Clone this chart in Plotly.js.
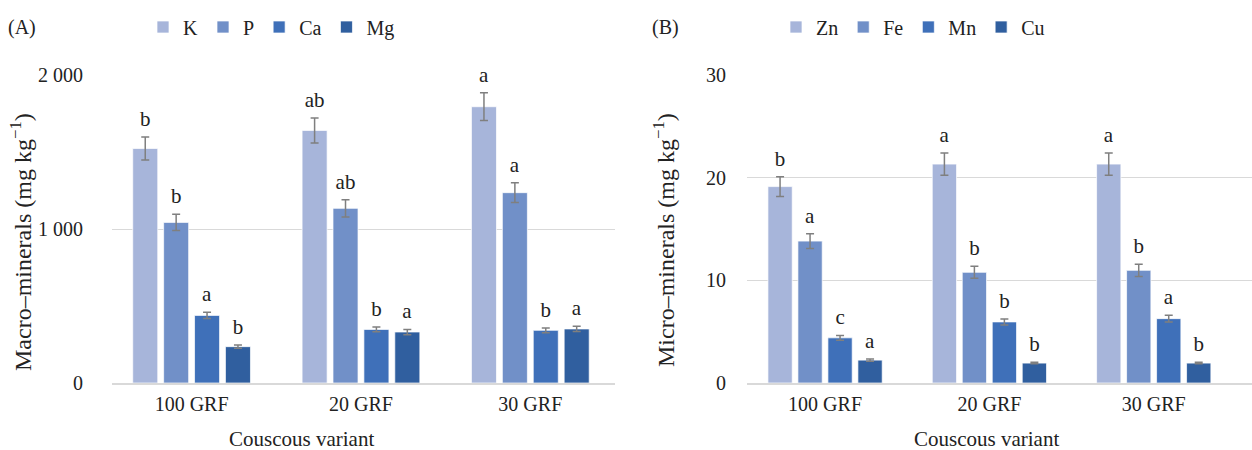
<!DOCTYPE html>
<html>
<head>
<meta charset="utf-8">
<script src="https://cdn.plot.ly/plotly-3.0.1.min.js"></script>
<style>html,body{margin:0;padding:0;background:#fff;}#chart{width:1252px;height:450px;}</style>
</head>
<body>
<div id="chart"></div>
<script>
// ---------- data ----------
const categories = ['100 GRF', '20 GRF', '30 GRF'];

const macroNames = ['K', 'P', 'Ca', 'Mg'];
const K_vals  = [1523, 1640, 1794];
const K_err   = [75, 81, 90];
const K_lbl   = ['b', 'ab', 'a'];
const P_vals  = [1043, 1134, 1236];
const P_err   = [52, 56, 64];
const P_lbl   = ['b', 'ab', 'a'];
const Ca_vals = [439, 348, 342];
const Ca_err  = [20, 15, 15];
const Ca_lbl  = ['a', 'b', 'b'];
const Mg_vals = [236, 331, 351];
const Mg_err  = [10, 17, 17];
const Mg_lbl  = ['b', 'a', 'a'];

const microNames = ['Zn', 'Fe', 'Mn', 'Cu'];
const Zn_vals = [19.13, 21.32, 21.32];
const Zn_err  = [0.97, 1.08, 1.08];
const Zn_lbl  = ['b', 'a', 'a'];
const Fe_vals = [13.82, 10.78, 10.97];
const Fe_err  = [0.71, 0.58, 0.60];
const Fe_lbl  = ['a', 'b', 'b'];
const Mn_vals = [4.40, 5.95, 6.27];
const Mn_err  = [0.23, 0.29, 0.32];
const Mn_lbl  = ['c', 'b', 'a'];
const Cu_vals = [2.23, 1.94, 1.94];
const Cu_err  = [0.10, 0.07, 0.07];
const Cu_lbl  = ['a', 'b', 'b'];

// ---------- style ----------
const colors = ['#A7B5DA', '#7190C8', '#3F70B9', '#305F9F'];
const FONT = 'Liberation Serif';
const TXT = '#222222';

const macro = [
  [K_vals, K_err, K_lbl], [P_vals, P_err, P_lbl],
  [Ca_vals, Ca_err, Ca_lbl], [Mg_vals, Mg_err, Mg_lbl]
];
const micro = [
  [Zn_vals, Zn_err, Zn_lbl], [Fe_vals, Fe_err, Fe_lbl],
  [Mn_vals, Mn_err, Mn_lbl], [Cu_vals, Cu_err, Cu_lbl]
];

const traces = [];
function addSet(names, sets, xa, ya, legendId, pad) {
  sets.forEach(([vals, errs, lbls], i) => {
    const grp = xa + names[i];
    traces.push({
      type: 'bar', x: categories, y: vals, name: names[i],
      xaxis: xa, yaxis: ya, legend: legendId, offsetgroup: grp,
      marker: { color: colors[i], line: { color: 'rgba(255,255,255,0.7)', width: 1 } },
      error_y: { type: 'data', array: errs, visible: true, color: '#7f7f7f', thickness: 1.5, width: 4 },
      hoverinfo: 'skip'
    });
    // invisible bar reaching the error-bar top, carrying the letter label
    traces.push({
      type: 'bar', x: categories, y: vals.map((v, k) => v + errs[k] + pad),
      xaxis: xa, yaxis: ya, legend: legendId, offsetgroup: grp, showlegend: false,
      marker: { color: 'rgba(0,0,0,0)', line: { width: 0 } },
      text: lbls, textposition: 'outside', cliponaxis: false,
      textfont: { family: FONT, size: 21, color: TXT },
      hoverinfo: 'skip'
    });
  });
}
addSet(macroNames, macro, 'x', 'y', 'legend', 20);
addSet(microNames, micro, 'x2', 'y2', 'legend2', 0.3);

const axFont = { family: FONT, size: 20, color: TXT };
const titleFont = { family: FONT, size: 21, color: TXT };
const yTitleFont = { family: FONT, size: 24, color: TXT };
const W = 1252, H = 450;
const layout = {
  width: W, height: H,
  margin: { l: 0, r: 0, t: 0, b: 0 },
  paper_bgcolor: '#ffffff', plot_bgcolor: '#ffffff',
  font: { family: FONT, size: 20, color: TXT },
  separators: '. ',
  barmode: 'group', bargap: 0.27, bargroupgap: 0.19,
  showlegend: true,
  xaxis: {
    domain: [112 / W, 615 / W], range: [-0.47, 2.5], type: 'category',
    showgrid: false, showline: true, linecolor: '#d9d9d9', linewidth: 1.5,
    ticks: '', tickfont: axFont, ticklabelstandoff: 2, anchor: 'y'
  },
  yaxis: {
    domain: [1 - 383 / H, 1 - 75 / H], range: [0, 2000], dtick: 1000,
    tickformat: ',d', showgrid: true, gridcolor: '#d9d9d9', gridwidth: 1,
    zeroline: false, showline: false, ticks: '', tickfont: axFont,
    ticklabelstandoff: 28, anchor: 'x'
  },
  xaxis2: {
    domain: [747 / W, 1252 / W], range: [-0.475, 2.598], type: 'category',
    showgrid: false, showline: true, linecolor: '#d9d9d9', linewidth: 1.5,
    ticks: '', tickfont: axFont, ticklabelstandoff: 2, anchor: 'y2'
  },
  yaxis2: {
    domain: [1 - 383 / H, 1 - 75 / H], range: [0, 30], dtick: 10,
    showgrid: true, gridcolor: '#d9d9d9', gridwidth: 1,
    zeroline: false, showline: false, ticks: '', tickfont: axFont,
    ticklabelstandoff: 20, anchor: 'x2'
  },
  legend: {
    orientation: 'h', x: 143 / W, xanchor: 'left', y: 1 - 27 / H, yanchor: 'middle',
    font: { family: FONT, size: 20, color: TXT }, bgcolor: 'rgba(0,0,0,0)'
  },
  legend2: {
    orientation: 'h', x: 776 / W, xanchor: 'left', y: 1 - 27 / H, yanchor: 'middle',
    font: { family: FONT, size: 20, color: TXT }, bgcolor: 'rgba(0,0,0,0)'
  },
  annotations: [
    { text: '(A)', xref: 'paper', yref: 'paper', x: 6 / W, y: 1 - 27 / H, xanchor: 'left', yanchor: 'middle', showarrow: false, font: axFont },
    { text: '(B)', xref: 'paper', yref: 'paper', x: 650 / W, y: 1 - 27 / H, xanchor: 'left', yanchor: 'middle', showarrow: false, font: axFont },
    { text: 'Macro–minerals (mg kg<sup>−1</sup>)', xref: 'paper', yref: 'paper', x: 21 / W, y: 1 - 242 / H, xanchor: 'center', yanchor: 'middle', textangle: -90, showarrow: false, font: yTitleFont },
    { text: 'Micro–minerals (mg kg<sup>−1</sup>)', xref: 'paper', yref: 'paper', x: 664 / W, y: 1 - 240 / H, xanchor: 'center', yanchor: 'middle', textangle: -90, showarrow: false, font: yTitleFont },
    { text: 'Couscous variant', xref: 'paper', yref: 'paper', x: 301 / W, y: 0, xanchor: 'center', yanchor: 'bottom', yshift: -3, showarrow: false, font: titleFont },
    { text: 'Couscous variant', xref: 'paper', yref: 'paper', x: 986 / W, y: 0, xanchor: 'center', yanchor: 'bottom', yshift: -3, showarrow: false, font: titleFont }
  ]
};

Plotly.newPlot('chart', traces, layout, { staticPlot: true, displayModeBar: false });
</script>
</body>
</html>
